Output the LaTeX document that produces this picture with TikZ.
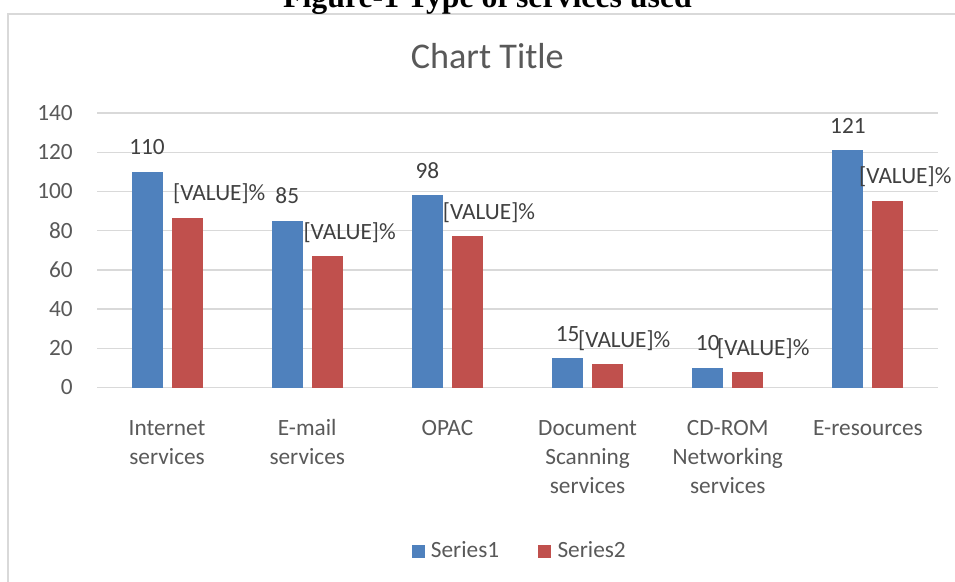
\documentclass[tikz,border=0pt]{standalone}
\usepackage{fontspec}
\setmainfont{Carlito}
\newfontfamily\figfont{Liberation Serif}
\usetikzlibrary{positioning}

\definecolor{seriesA}{HTML}{4F81BD}
\definecolor{seriesB}{HTML}{C0504D}
\definecolor{gridgray}{HTML}{D9D9D9}
\definecolor{labelgray}{HTML}{595959}
\definecolor{valgray}{HTML}{404040}

\tikzset{
  chartfont/.style={font=\fontsize{23.3}{28.8}\selectfont},
  ylab/.style={chartfont, anchor=east, inner sep=0pt, text=labelgray},
  catlab/.style={chartfont, anchor=base, inner sep=0pt, align=center, text=labelgray},
  vallab/.style={chartfont, inner sep=0pt, text=valgray},
  gridline/.style={gridgray, line width=1.3pt},
  legbox/.style={minimum size=12.5pt, inner sep=0pt, draw=none}
}

\begin{document}
\begin{tikzpicture}[x=1pt, y=-1pt]
      \useasboundingbox (0,0) rectangle (955,581);
      \clip (0,0) rectangle (955,581);

      % frame of the chart area
      \draw[gridgray, line width=1.6pt] (8,600) |- (970,14);

      \node[anchor=base, font=\figfont\bfseries\fontsize{31.8}{36}\selectfont] (figtitle) at (487.5,7.3) {Figure-1 Type of services used};
      \node[anchor=base, font=\fontsize{36.2}{40}\selectfont, text=labelgray, inner sep=0pt] (charttitle) at (487.3,68.3) {Chart Title};

      % value axis
      \foreach \k in {0,...,7}{
        \pgfmathsetmacro{\gy}{387.5-39.21*\k}
        \pgfmathtruncatemacro{\gv}{20*\k}
        \draw[gridline] (97,\gy) -- (938,\gy);
        \node[ylab] (ytick-\k) at (73,\gy) {\gv};
      }

      % bars, values and categories (\nl = lines of the category text)
      \foreach \i/\cat/\nl/\va/\lx in {0/{Internet\\services}/2/110/173,
                                       1/{E-mail\\services}/2/85/303.3,
                                       2/{OPAC}/1/98/442.7,
                                       3/{Document\\Scanning\\services}/3/15/578,
                                       4/{CD-ROM\\Networking\\services}/3/10/717,
                                       5/{E-resources}/1/121/859}{
        \pgfmathsetmacro{\cx}{97+140.17*(\i+0.5)}
        \pgfmathsetmacro{\ya}{387.5-1.9607*\va}
        \pgfmathsetmacro{\yb}{387.5-1.9607*\va/1.27}
        \pgfmathsetmacro{\yc}{435.7+28.8*(\nl-1)}
        \fill[seriesA] (\cx-35.5,387.5) rectangle (\cx-4.5,\ya) coordinate (bar1-\i);
        \fill[seriesB] (\cx+4.5,387.5) rectangle (\cx+35.5,\yb) coordinate (bar2-\i);
        \node[vallab, anchor=base] (val1-\i) at (\cx-20,\ya-17) {\va};
        \node[vallab, anchor=base west] (val2-\i) at (\lx,\yb-17) {[VALUE]\%};
        \node[catlab] (cat-\i) at (\cx,\yc) {\cat};
      }

      % legend
      \node[legbox, fill=seriesA] (leg1) at (418.5,551.3) {};
      \node[vallab, text=labelgray, anchor=base west] (leg1txt) at (430.7,557.7) {Series1};
      \node[legbox, fill=seriesB] (leg2) at (544.5,551.3) {};
      \node[vallab, text=labelgray, anchor=base west] (leg2txt) at (557.3,557.7) {Series2};

    \end{tikzpicture}
\end{document}
